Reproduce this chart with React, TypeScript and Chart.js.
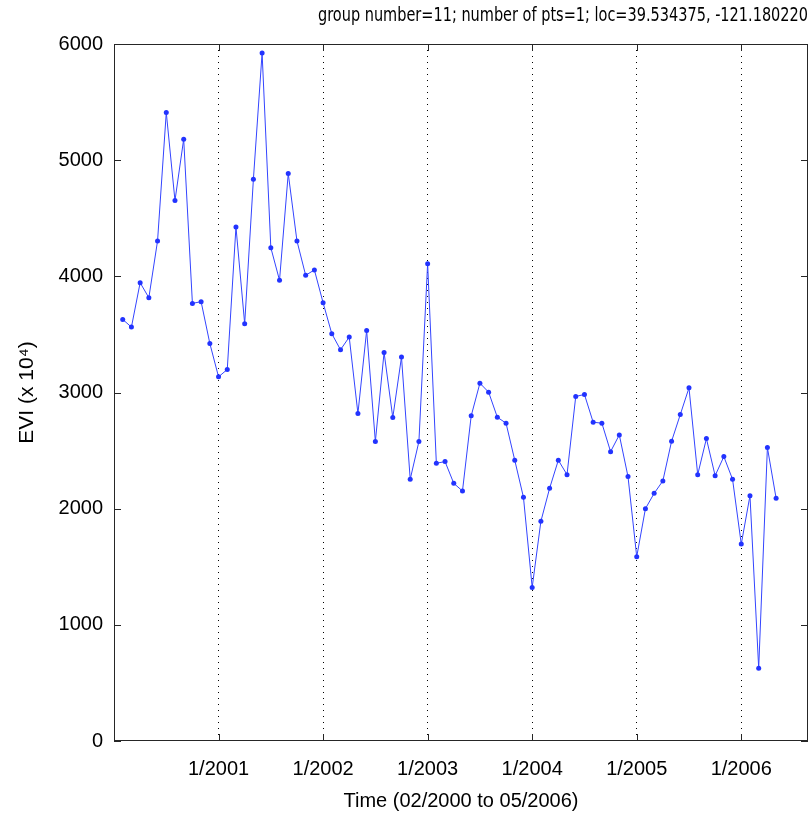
import React, { useEffect, useRef } from "react";
import { Chart, registerables } from "chart.js";

Chart.register(...registerables);

const TITLE = "group number=11; number of pts=1; loc=39.534375, -121.180220";
const Y_TITLE = "EVI (x 10\u2074)";
const X_TITLE = "Time (02/2000 to 05/2006)";

// months counted from 01/2000; first sample is 02/2000
const FIRST_MONTH = 1;
const X_MIN = 0;
const X_MAX = 79.66;

// monthly EVI (x 10^4), 02/2000 .. 05/2006
const evi = [
  3629, 3563, 3945, 3816, 4305, 5411, 4652, 5181, 3767, 3782,
  3422, 3135, 3198, 4425, 3592, 4836, 5922, 4247, 3966, 4885,
  4305, 4009, 4055, 3773, 3506, 3368, 3477, 2819, 3534, 2578,
  3345, 2784, 3305, 2253, 2578, 4109, 2391, 2405, 2218, 2152,
  2799, 3080, 3003, 2787, 2736, 2417, 2098, 1322, 1891, 2175,
  2417, 2293, 2966, 2983, 2744, 2736, 2491, 2635, 2276, 1586,
  2000, 2132, 2239, 2580, 2810, 3040, 2293, 2603, 2284, 2448,
  2253, 1695, 2112, 626, 2526, 2089,
];

const X_TICK_MONTHS = [12, 24, 36, 48, 60, 72];
const X_TICK_LABELS = ["1/2001", "1/2002", "1/2003", "1/2004", "1/2005", "1/2006"];
const Y_TICKS = [0, 1000, 2000, 3000, 4000, 5000, 6000];

const FONT = '"Liberation Sans", Arial, Helvetica, sans-serif';
const TITLE_FONT = '"Liberation Sans Narrow", "DejaVu Sans Condensed", "Liberation Sans", sans-serif';

const framePlugin = {
  id: "frame",
  afterDraw(chart: any) {
    const { ctx, chartArea } = chart;
    const { left, top, right, bottom } = chartArea;
    const xs = chart.scales.x;
    const ys = chart.scales.y;
    ctx.save();
    ctx.strokeStyle = "#262626";
    ctx.lineWidth = 1;
    ctx.strokeRect(left + 0.5, top + 0.5, right - left - 1, bottom - top - 1);
    const L = 7;
    ctx.beginPath();
    Y_TICKS.forEach((v) => {
      const py = Math.round(ys.getPixelForValue(v)) + 0.5;
      ctx.moveTo(left, py);
      ctx.lineTo(left + L, py);
      ctx.moveTo(right - L, py);
      ctx.lineTo(right, py);
    });
    X_TICK_MONTHS.forEach((v) => {
      const px = Math.round(xs.getPixelForValue(v)) + 0.5;
      ctx.moveTo(px, bottom);
      ctx.lineTo(px, bottom - L);
      ctx.moveTo(px, top);
      ctx.lineTo(px, top + L);
    });
    ctx.stroke();
    // title
    ctx.fillStyle = "#000";
    ctx.font = `20px ${TITLE_FONT}`;
    ctx.textAlign = "center";
    ctx.textBaseline = "middle";
    const w = ctx.measureText(TITLE).width;
    const target = 490;
    const sx = w > 0 ? target / w : 1;
    ctx.translate(563, 16);
    ctx.scale(sx, 1);
    ctx.fillText(TITLE, 0, 0);
    ctx.restore();
  },
};

export default function App() {
  const ref = useRef<HTMLCanvasElement | null>(null);

  useEffect(() => {
    if (!ref.current) return;
    const points = evi.map((v, i) => ({ x: FIRST_MONTH + i, y: v }));
    const chart = new Chart(ref.current, {
      type: "line",
      data: {
        datasets: [
          {
            data: points,
            borderColor: "#3344ff",
            backgroundColor: "#2233ff",
            borderWidth: 1,
            pointRadius: 2.5,
            pointBorderWidth: 0,
            pointBackgroundColor: "#2233ff",
            tension: 0,
          },
        ],
      },
      options: {
        animation: false,
        responsive: false,
        events: [],
        layout: { padding: { top: 44, right: 1, left: 0, bottom: 0 } },
        plugins: {
          legend: { display: false },
          title: { display: false },
          tooltip: { enabled: false },
        },
        scales: {
          x: {
            type: "linear",
            min: X_MIN,
            max: X_MAX,
            afterFit: (s: any) => {
              s.height = 77;
            },
            afterBuildTicks: (s: any) => {
              s.ticks = X_TICK_MONTHS.map((v) => ({ value: v }));
            },
            ticks: {
              autoSkip: false,
              maxRotation: 0,
              padding: 16,
              color: "#000",
              font: { family: FONT, size: 20 },
              callback: (value: any) => {
                const i = X_TICK_MONTHS.indexOf(Number(value));
                return i >= 0 ? X_TICK_LABELS[i] : "";
              },
            },
            grid: {
              display: true,
              drawTicks: false,
              color: "#000",
              lineWidth: 1,
              borderDash: [1, 5],
            } as any,
            border: { display: false, dash: [1, 5] } as any,
            title: {
              display: true,
              text: X_TITLE,
              color: "#000",
              font: { family: FONT, size: 20 },
              padding: { top: 0, bottom: 5 },
            },
          },
          y: {
            type: "linear",
            min: 0,
            max: 6000,
            afterFit: (s: any) => {
              s.width = 114;
            },
            afterBuildTicks: (s: any) => {
              s.ticks = Y_TICKS.map((v) => ({ value: v }));
            },
            ticks: {
              padding: 11,
              color: "#000",
              font: { family: FONT, size: 20 },
              callback: (value: any) => String(value),
            },
            grid: { display: false, drawTicks: false },
            border: { display: false },
            title: {
              display: true,
              text: Y_TITLE,
              color: "#000",
              font: { family: FONT, size: 21 },
              padding: { top: 15, bottom: 0 },
            },
          },
        },
      },
      plugins: [framePlugin],
    });
    return () => chart.destroy();
  }, []);

  return (
    <div
      style={{
        position: "fixed",
        left: 0,
        top: 0,
        width: 812,
        height: 818,
        background: "#fff",
      }}
    >
      <canvas ref={ref} width={812} height={818} style={{ width: 812, height: 818, display: "block" }} />
    </div>
  );
}
